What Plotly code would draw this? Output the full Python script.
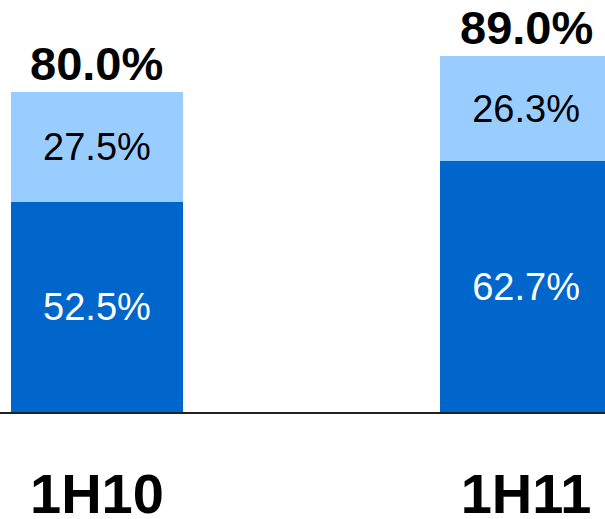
import plotly.graph_objects as go

categories = ["1H10", "1H11"]
base_values = [52.5, 62.7]
top_values = [27.5, 26.3]
totals = [80.0, 89.0]

dark_blue = "#0066CC"
light_blue = "#99CCFF"
font_family = "Liberation Sans, Arial, sans-serif"

fig = go.Figure()
fig.add_trace(go.Bar(
    x=categories, y=base_values, width=0.4,
    marker=dict(color=dark_blue, line=dict(width=0)),
    text=[f"{v:.1f}%" for v in base_values],
    textposition="inside", insidetextanchor="middle",
    textfont=dict(family=font_family, size=38, color="white"),
    hoverinfo="skip",
))
fig.add_trace(go.Bar(
    x=categories, y=top_values, width=0.4,
    marker=dict(color=light_blue, line=dict(width=0)),
    text=[f"{v:.1f}%" for v in top_values],
    textposition="inside", insidetextanchor="middle",
    textfont=dict(family=font_family, size=38, color="black"),
    hoverinfo="skip",
))

for c, t in zip(categories, totals):
    fig.add_annotation(
        x=c, y=t, text=f"<b>{t:.1f}%</b>", showarrow=False,
        yanchor="bottom", xanchor="center",
        font=dict(family=font_family, size=47, color="black"),
    )

fig.update_layout(
    barmode="stack",
    width=605, height=519,
    margin=dict(l=0, r=0, t=0, b=107, pad=0),
    paper_bgcolor="white", plot_bgcolor="white",
    showlegend=False,
    uniformtext=dict(mode=False),
    xaxis=dict(
        type="category", range=[-0.226, 1.184],
        showline=True, linecolor="#222222", linewidth=1.5,
        ticks="", showgrid=False, zeroline=False,
        tickfont=dict(family=font_family, size=56, color="black"),
        ticklabelstandoff=32,
        tickvals=categories,
        ticktext=[f"<b>{c}</b>" for c in categories],
        automargin=False,
    ),
    yaxis=dict(
        range=[0, 103], visible=False, showgrid=False, zeroline=False,
        automargin=False,
    ),
)

fig.write_html(
    "out.html",
    config={"displayModeBar": False, "staticPlot": True},
    post_script="document.body.style.margin='0';document.body.style.overflow='hidden';",
)
